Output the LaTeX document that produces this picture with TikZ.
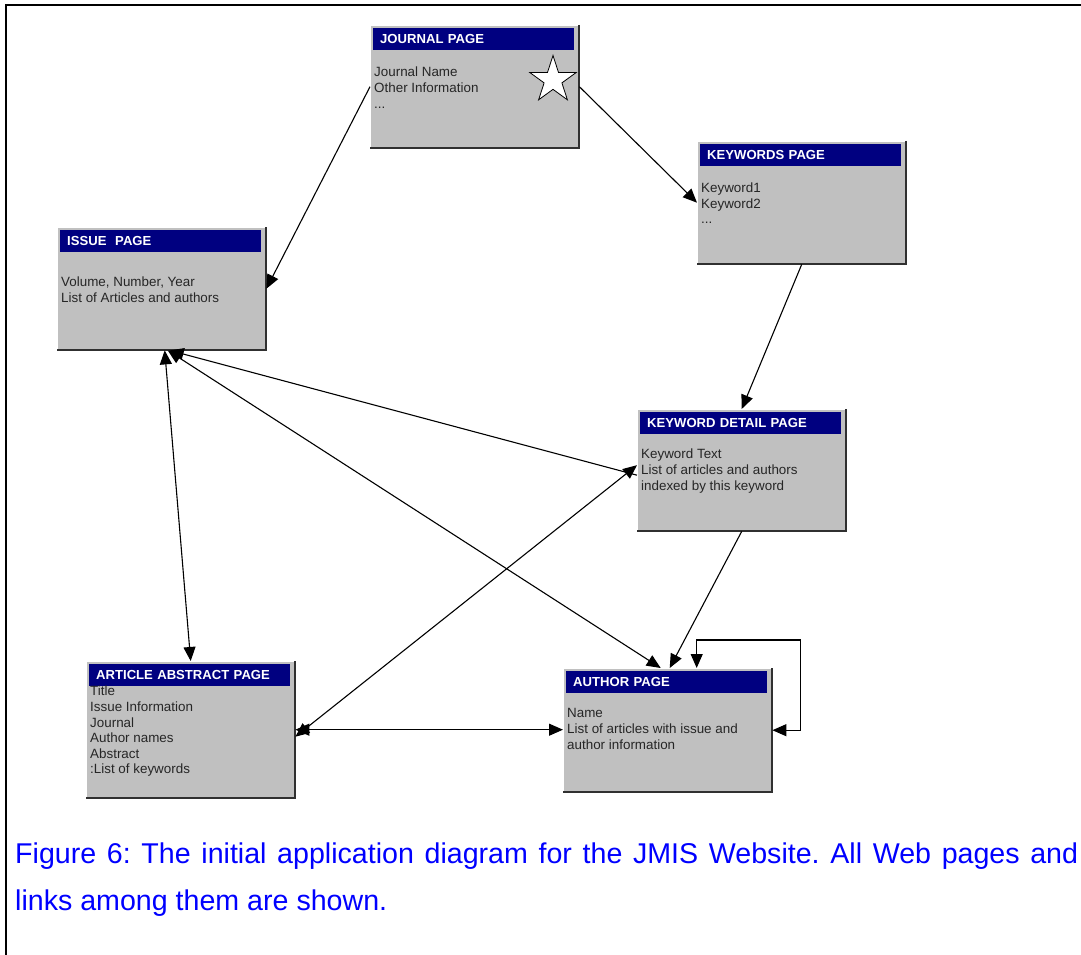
\documentclass[tikz,border=0pt]{standalone}
\usepackage{fontspec}
\setmainfont{Liberation Sans}
\usetikzlibrary{arrows.meta,shapes.geometric,calc}
\definecolor{hdrnavy}{RGB}{0,0,128}
\definecolor{pagegray}{RGB}{192,192,192}
\definecolor{edgedark}{RGB}{48,48,48}
\definecolor{capblue}{RGB}{0,0,255}

\tikzset{
  pagebox/.style={anchor=north west, fill=pagegray, draw=none, inner sep=0pt,
    minimum width=209pt, minimum height=#1},
  pagebox/.default=123pt,
  hdrbar/.style={anchor=north west, fill=hdrnavy, text=white, inner xsep=7pt, inner ysep=0pt,
    minimum height=21.5pt, text width=187pt, align=left,
    font=\bfseries\fontsize{13.1}{15}\selectfont},
  bodytext/.style={anchor=north west, inner sep=0pt, align=left, text=black!85,
    font=\fontsize{13.4}{15.6}\selectfont},
  link/.style={line width=1.1pt, -{Triangle[length=14pt,width=12pt]}},
  duallink/.style={line width=1.1pt, {Triangle[length=14pt,width=12pt]}-{Triangle[length=14pt,width=12pt]}},
  caption/.style={anchor=base west, inner sep=0pt, text=capblue, font=\fontsize{28.6}{34}\selectfont}
}

% bevelled edge of a page box: light top/left, dark bottom/right
\newcommand\bevel[1]{%
  \draw[white, line width=1.5pt] (#1.south west) -- (#1.north west) -- (#1.north east);
  \draw[edgedark, line width=2pt] (#1.north east) -- (#1.south east) -- (#1.south west);
}

\begin{document}
\frenchspacing
\begin{tikzpicture}[x=1pt,y=-1pt]
\useasboundingbox (0,0) rectangle (1081,955);
\fill[white] (0,0) rectangle (1081,955);

% outer frame
\draw[line width=2pt] (6,960) -- (6,5) -- (1090,5);

% page boxes
\node[pagebox] (journal)  at (370,25)  {};
\node[pagebox] (keywords) at (697,141) {};
\node[pagebox] (issue)    at (57,227)  {};
\node[pagebox=122pt] (kwdetail) at (637,409) {};
\node[pagebox=137pt] (article)  at (86,661)  {};
\node[pagebox=124pt] (author)   at (563,668) {};

\bevel{journal}
\bevel{keywords}
\bevel{issue}
\bevel{kwdetail}
\bevel{article}
\bevel{author}

% header bars
\node[hdrbar] (journal-h)  at ([shift={(3,3)}]journal.north west)  {JOURNAL PAGE};
\node[hdrbar] (keywords-h) at ([shift={(3,3)}]keywords.north west) {KEYWORDS PAGE};
\node[hdrbar] (issue-h)    at ([shift={(3,3)}]issue.north west)    {ISSUE\ \ PAGE};
\node[hdrbar] (kwdetail-h) at ([shift={(3,3)}]kwdetail.north west) {KEYWORD DETAIL PAGE};
\node[hdrbar] (article-h)  at ([shift={(3,3)}]article.north west)  {ARTICLE ABSTRACT PAGE};
\node[hdrbar] (author-h)   at ([shift={(3,3)}]author.north west)   {AUTHOR PAGE};

% page contents
\node[bodytext] (journal-t)  at ([shift={(4,42)}]journal.north west)
  {Journal Name\\Other Information\\...};
\node[bodytext] (keywords-t) at ([shift={(4,41.5)}]keywords.north west)
  {Keyword1\\Keyword2\\...};
\node[bodytext] (issue-t)    at ([shift={(4,49.5)}]issue.north west)
  {Volume, Number, Year\\List of Articles and authors};
\node[bodytext] (kwdetail-t) at ([shift={(4,40)}]kwdetail.north west)
  {Keyword Text\\List of articles and authors\\indexed by this keyword};
\node[bodytext] (article-t)  at ([shift={(4,25)}]article.north west)
  {Title\\Issue Information\\Journal\\Author names\\Abstract\\:List of keywords};
\node[bodytext] (author-t)   at ([shift={(4,40.5)}]author.north west)
  {Name\\List of articles with issue and\\author information};

% star on the journal page
\node[star, star points=5, star point ratio=2.618, minimum size=49pt, inner sep=0pt,
      draw=black, line width=0.8pt, fill=white] (jstar) at (553,80) {};

% links between pages
\draw[link] (journal.west) -- (issue.east);
\draw[link] (journal.east) -- (keywords.west);
\draw[link] (keywords.south) -- (kwdetail.north);
\draw[link] (kwdetail.south) -- ([xshift=2]author.north);
\draw[link] ([yshift=-5]kwdetail.west) -- ([xshift=8]issue.south);
\draw[duallink] ([xshift=3]issue.south) -- (article.north);
\draw[duallink] ([xshift=6]issue.south) -- ([xshift=-7]author.north);
\draw[duallink] ([yshift=-7]article.east) -- ([yshift=5]kwdetail.west);
\draw[duallink] (article.east) -- (article.east -| author.west);
\draw[duallink] ([xshift=29]author.north) -- ++(0,-28) -| ([xshift=28]author.east) -- (author.east);

% caption, first line set to the full measure
\node[caption] (cap1) at (15,863) {\makebox[1063pt][s]{Figure 6: The initial application diagram for the JMIS Website. All Web pages and}};
\node[caption] (cap2) at (15,910) {links among them are shown.};
\end{tikzpicture}
\end{document}
